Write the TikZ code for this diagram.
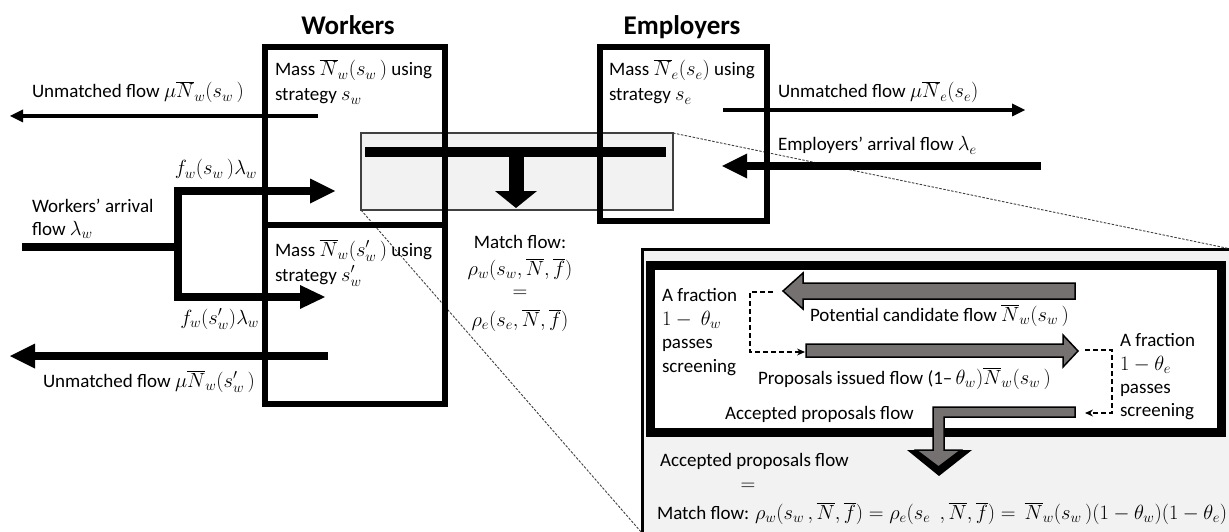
\RequirePackage{fix-cm}
\documentclass[tikz,border=0pt]{standalone}
\usepackage[no-math]{fontspec}
\setmainfont{Carlito}
\DeclareMathSizes{19}{20.5}{14.5}{11}
\usetikzlibrary{arrows.meta}
\definecolor{flowgray}{RGB}{118,113,113}
\definecolor{panelgray}{RGB}{242,242,242}
\definecolor{rimgray}{RGB}{64,64,64}
\newcommand{\Nb}{\overline{N}}
\newcommand{\fb}{\overline{f}}
\begin{document}
\begin{tikzpicture}[x=1pt,y=-1pt,
  every node/.style={inner sep=0pt,outer sep=0pt,font=\fontsize{19}{23}\selectfont},
  txt/.style={anchor=base west},
  txtr/.style={anchor=base east},
  txtc/.style={anchor=base},
  heading/.style={anchor=base,font=\fontsize{27}{31}\selectfont\bfseries},
  popbox/.style={draw,line width=6.5pt,anchor=north west},
  thinflow/.style={line width=4.5pt,-{Triangle[length=13pt,width=13pt,line width=0pt]}},
  thickflow/.style={line width=8pt,-{Triangle[length=25pt,width=25pt,line width=0pt]}},
  grayflow/.style={fill=flowgray,draw=black,line width=1.5pt,line join=miter},
  screenlink/.style={draw=black,line width=1.8pt,dash pattern=on 5pt off 3pt,-{Stealth[length=8pt,width=7pt,line width=0pt]}},
  zoomline/.style={draw=black!75,line width=0.9pt,dash pattern=on 2.5pt off 1.5pt},
]
\useasboundingbox (0,0) rectangle (1229,532);

% magnified panel of the matching step and the region it enlarges
\node[draw=black,line width=3pt,fill=panelgray,anchor=north west,minimum width=589pt,minimum height=284pt] (zb) at (642,249) {};
\node[draw=rimgray,line width=1.2pt,fill=panelgray,anchor=north west,minimum width=312pt,minimum height=77pt] (mz) at (361,133) {};
\draw[zoomline] (mz.north east) -- (zb.north east);
\draw[zoomline] (mz.south west) -- (zb.south west);

% population boxes
\node[popbox,minimum width=180pt,minimum height=178pt] (wu) at (265,47) {};
\node[popbox,minimum width=180pt,minimum height=179pt] (wl) at (265,225) {};
\node[popbox,minimum width=167pt,minimum height=174pt] (eb) at (600,47) {};

\node[heading] (hw) at (348,35) {Workers};
\node[heading] (he) at (682,35) {Employers};

\node[txt] (wu1) at (275,76) {Mass $\Nb_w(s_w\,)$ using};
\node[txt] (wu2) at (275,101) {strategy $s_w$};
\node[txt] (wl1) at (275,256) {Mass $\Nb_w(s'_w\,)$ using};
\node[txt] (wl2) at (275,281) {strategy $s'_w$};
\node[txt] (eb1) at (609,76) {Mass $\Nb_e(s_e)$ using};
\node[txt] (eb2) at (609,101) {strategy $s_e$};

% workers: exits and arrivals
\coordinate (wuOut) at (318,116); \coordinate (wuExit) at (10,116);
\draw[thinflow] (wuOut) -- (wuExit);
\node[txt] (wuOutLbl) at (32,98) {Unmatched flow $\mu\Nb_w(s_w\,)$};

\coordinate (wArr) at (22,247); \coordinate (wSplit) at (182,247);
\coordinate (wTop) at (178,191); \coordinate (wBot) at (178,297);
\coordinate (wuIn) at (335,191); \coordinate (wlIn) at (325,297);
\draw[line width=8pt] (wArr) -- (wSplit);
\draw[line width=8pt,{Triangle[length=25pt,width=25pt,line width=0pt]}-{Triangle[length=25pt,width=24pt,line width=0pt]}] (wuIn) -- (wTop) -- (wBot) -- (wlIn);
\node[txt] (wArrLbl1) at (32,212) {Workers’ arrival};
\node[txt] (wArrLbl2) at (32,235) {flow $\lambda_w$};
\node[txtr] (wuInLbl) at (257,175) {$f_w(s_w\,)\lambda_w$};
\node[txtr] (wlInLbl) at (259,324) {$f_w(s'_w)\lambda_w$};

\coordinate (wlOut) at (328,356); \coordinate (wlExit) at (10,356);
\draw[thickflow] (wlOut) -- (wlExit);
\node[txt] (wlOutLbl) at (43,387) {Unmatched flow $\mu\Nb_w(s'_w\,)$};

% employers: exit and arrival
\coordinate (eOut) at (723,110); \coordinate (eExit) at (1025,110);
\draw[thinflow] (eOut) -- (eExit);
\node[txt] (eOutLbl) at (778,98) {Unmatched flow $\mu\Nb_e(s_e)$};
\coordinate (eArr) at (1041,166); \coordinate (eIn) at (722,166);
\draw[thickflow] (eArr) -- (eIn);
\node[txt] (eArrLbl) at (778,151) {Employers’ arrival flow $\lambda_e$};

% matching bar and outflow
\coordinate (mbL) at (365,152); \coordinate (mbR) at (666,152);
\draw[line width=10pt] (mbL) -- (mbR);
\coordinate (mbMid) at (516,152); \coordinate (mbOut) at (516,208);
\draw[line width=15pt,-{Triangle[length=17pt,width=42pt,line width=0pt]}] (mbMid) -- (mbOut);

\node[txtc] (m1) at (520,248) {Match flow:};
\node[txtc] (m2) at (520,275) {$\rho_w(s_w,\Nb,\fb)$};
\node[txtc] (m3) at (520,297) {$=$};
\node[txtc] (m4) at (520,326) {$\rho_e(s_e,\Nb,\fb)$};

% inside the magnified panel
\node[draw=black,line width=9pt,fill=white,anchor=north west,minimum width=571pt,minimum height=167pt] (ib) at (650,265) {};

\draw[grayflow] (783,291) -- (803,273) -- (803,283) -- (1075,283) -- (1075,299) -- (803,299) -- (803,309) -- cycle;
\draw[grayflow] (1078,351) -- (1063,335) -- (1063,344) -- (806,344) -- (806,357) -- (1063,357) -- (1063,367) -- cycle;
\fill[black] (907,450) -- (972,450) -- (939,476) -- cycle;
\draw[grayflow] (1075,407) -- (933,407) -- (933,450) -- (916,450) -- (938.5,467) -- (961,450) -- (944,450) -- (944,417) -- (1075,417) -- cycle;

\coordinate (candTip) at (773,292); \coordinate (lCornerA) at (750,292);
\coordinate (lCornerB) at (750,352); \coordinate (propTail) at (805,352);
\draw[screenlink] (candTip) -- (lCornerA) -- (lCornerB) -- (propTail);
\coordinate (propTip) at (1085,350); \coordinate (rCornerA) at (1112,350);
\coordinate (rCornerB) at (1112,413); \coordinate (accTail) at (1085,413);
\draw[screenlink] (propTip) -- (rCornerA) -- (rCornerB) -- (accTail);

\node[txt] (lf1) at (662,301) {A fraction};
\node[txt] (lf2) at (662,325) {$1-\ \theta_w$};
\node[txt] (lf3) at (662,348) {passes};
\node[txt] (lf4) at (662,372) {screening};
\node[txt] (rf1) at (1120,346) {A fraction};
\node[txt] (rf2) at (1120,370) {$1-\theta_e$};
\node[txt] (rf3) at (1120,393) {passes};
\node[txt] (rf4) at (1120,416) {screening};

\node[txt] (candLbl) at (810,321) {Potential candidate flow $\Nb_w(s_w\,)$};
\node[txt] (propLbl) at (758,384) {Proposals issued flow (1–\,$\theta_w)\Nb_w(s_w\,)$};
\node[txt] (accLbl) at (725,419) {Accepted proposals flow};

\node[txt] (acc2) at (660,466) {Accepted proposals flow};
\node[txtc] (eq2) at (748,490) {$=$};
\node[txt] (mf2) at (657,519) {Match flow: $\rho_w(s_w\,,\Nb,\fb) = \rho_e(s_e\;\,,\Nb,\fb) = \,\Nb_w(s_w\,)(1-\theta_w)(1-\theta_e)$};
\end{tikzpicture}
\end{document}
